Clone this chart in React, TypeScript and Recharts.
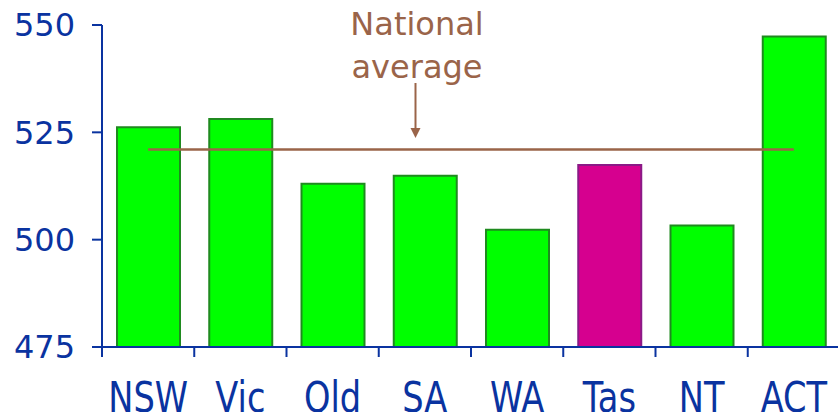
import React from 'react';
import { ComposedChart, Bar, Line, Cell, XAxis, YAxis } from 'recharts';

// Reading scores by state/territory
const states = ['NSW', 'Vic', 'Qld', 'SA', 'WA', 'Tas', 'NT', 'ACT'];
const scores = [526.2, 528.1, 513.0, 514.9, 502.3, 517.4, 503.3, 547.3];
const nationalAverage = 521;
const highlighted = ['Tas'];
const yTicks = [475, 500, 525, 550];

const AXIS_BLUE = '#0a33a0';
const BROWN = '#9a6449';
const FONT = '"DejaVu Sans", Verdana, sans-serif';
const TICK_SIZE = 10;
const TICK_MARGIN = 25;

const data = states.map((state, i) => ({ state, score: scores[i], avg: nationalAverage }));

// category label plus a tick mark at the left edge of each band
const StateTick = (props: any) => {
  const { x, y, payload } = props;
  const half = payload.offset ?? 0;
  const axisY = y - TICK_MARGIN - TICK_SIZE;
  return (
    <g>
      <line x1={x - half} x2={x - half} y1={axisY} y2={axisY + TICK_SIZE} stroke={AXIS_BLUE} strokeWidth={2} />
      {/* labels in the original are drawn taller than the y ticks */}
      <g transform={`translate(${x},${y}) scale(1.02,1.3)`}>
        <text x={0} y={0} dy="0.71em" textAnchor="middle" fill={AXIS_BLUE} fontSize={33} fontFamily={FONT}>
          {payload.value}
        </text>
      </g>
    </g>
  );
};

const App: React.FC = () => {
  return (
    <div style={{ position: 'absolute', left: 0, top: 0, width: 838, height: 412, overflow: 'hidden', background: '#fff' }}>
      <ComposedChart width={842} height={412} data={data} margin={{ top: 25, right: 2, left: 0, bottom: 0 }}>
        <XAxis
          dataKey="state"
          height={65}
          tickSize={TICK_SIZE}
          tickMargin={TICK_MARGIN}
          tickLine={false}
          axisLine={{ stroke: AXIS_BLUE, strokeWidth: 2 }}
          tick={<StateTick />}
          interval={0}
        />
        <YAxis
          domain={[475, 550]}
          ticks={yTicks}
          width={102}
          tickSize={10}
          tickMargin={17}
          axisLine={{ stroke: AXIS_BLUE, strokeWidth: 2 }}
          tickLine={{ stroke: AXIS_BLUE, strokeWidth: 2 }}
          tick={{ fill: AXIS_BLUE, fontSize: 32, fontFamily: FONT }}
        />
        <Bar dataKey="score" barSize={63} isAnimationActive={false} strokeWidth={2}>
          {data.map((d) => (
            highlighted.includes(d.state)
              ? <Cell key={d.state} fill="#d6008f" stroke="#8a1a86" />
              : <Cell key={d.state} fill="#00ff00" stroke="#1f8a1f" />
          ))}
        </Bar>
        <Line dataKey="avg" stroke={BROWN} strokeWidth={2.5} dot={false} activeDot={false} isAnimationActive={false} />
      </ComposedChart>
      {/* annotation */}
      <svg width={838} height={412} style={{ position: 'absolute', left: 0, top: 0, pointerEvents: 'none' }}>
        <text x={417} y={35} textAnchor="middle" fill={BROWN} fontSize={32} fontFamily={FONT}>National</text>
        <text x={417} y={78} textAnchor="middle" fill={BROWN} fontSize={32} fontFamily={FONT}>average</text>
        <line x1={415.5} x2={415.5} y1={83} y2={129} stroke={BROWN} strokeWidth={2} />
        <polygon points="410.5,128 420.5,128 415.5,138" fill={BROWN} />
      </svg>
    </div>
  );
};

export default App;
